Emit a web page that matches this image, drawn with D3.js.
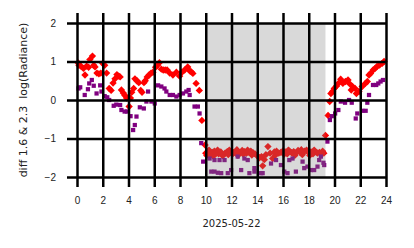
<!DOCTYPE html>
<html>
<head>
<meta charset="utf-8">
<script src="https://cdn.jsdelivr.net/npm/d3@7"></script>
<style>
  body { margin: 0; background: #fff; }
  svg { display: block; font-family: "DejaVu Sans", sans-serif; }
</style>
</head>
<body>
<div id="chart"></div>
<script>

//////// DATA ////////
var xTicks = [0, 2, 4, 6, 8, 10, 12, 14, 16, 18, 20, 22, 24];
var yTicks = [-2, -1, 0, 1, 2];
var shadeSpan = [10.0, 19.3];

// red diamonds: hour of day, value
var redHours = [
  0.1, 0.15, 0.3, 0.5, 0.62, 0.75, 0.9, 1.0, 1.2, 1.3, 1.4, 1.55, 1.7, 1.85, 2.0, 2.15, 2.3,
  2.5, 2.65, 2.8, 2.95, 3.1, 3.25, 3.35, 3.45, 3.6, 3.72, 3.85, 4.05, 4.15, 4.25, 4.4, 4.5,
  4.65, 4.8, 4.95, 5.05, 5.2, 5.3, 5.45, 5.6, 5.75, 5.9, 6.1, 6.25, 6.4, 6.55, 6.7, 6.85,
  7.0, 7.2, 7.45, 7.72, 7.97, 8.15, 8.36, 8.6, 8.75, 8.88, 9.0, 9.25, 9.5, 9.7, 9.95,
  10.0, 10.08, 10.17, 10.25, 10.33, 10.5, 10.58, 10.67, 10.83, 10.92, 11.0, 11.17, 11.25,
  11.33, 11.5, 11.67, 11.75, 11.83, 12.0, 12.08, 12.17, 12.33, 12.42, 12.5, 12.67, 12.83,
  12.92, 13.0, 13.17, 13.25, 13.33, 13.5, 13.58, 13.67, 13.83, 14.0, 14.17, 14.33, 14.42,
  14.55, 14.67, 14.83, 15.0, 15.2, 15.33, 15.42, 15.5, 15.67, 15.83, 16.0, 16.08, 16.17,
  16.33, 16.42, 16.5, 16.67, 16.83, 16.92, 17.0, 17.17, 17.33, 17.42, 17.5, 17.67, 17.83,
  18.0, 18.08, 18.17, 18.33, 18.42, 18.5, 18.67, 18.83, 19.0, 19.08, 19.17,
  19.3, 19.5, 19.63, 19.72, 19.85, 19.98, 20.15, 20.3, 20.48, 20.65, 20.85, 21.05, 21.15,
  21.3, 21.4, 21.6, 21.7, 21.9, 22.15, 22.4, 22.55, 22.68, 22.8, 23.0, 23.15, 23.3, 23.5,
  23.7, 23.85
];
var redValues = [
  0.96, 0.9, 0.88, 0.82, 0.65, 0.88, 0.85, 1.05, 1.14, 0.9, 0.86, 0.7, 0.68, 0.7, 0.95, 0.9, 0.7,
  0.3, 0.25, 0.44, 0.55, 0.66, 0.62, 0.6, 0.26, 0.18, 0.12, 0.05, -0.17, 0.05, 0.2, 0.3, 0.55,
  0.5, 0.45, 0.25, 0.2, 0.45, 0.5, 0.6, 0.65, 0.7, 0.72, 0.85, 0.9, 0.97, 0.8, 0.78, 0.78,
  0.78, 0.7, 0.65, 0.72, 0.62, 0.72, 0.78, 0.86, 0.76, 0.73, 0.69, 0.43, 0.25, -0.53, -1.17,
  -1.38, -1.44, -1.35, -1.3, -1.42, -1.36, -1.46, -1.33, -1.38, -1.3, -1.4, -1.35, -1.42,
  -1.45, -1.38, -1.34, -1.42, -1.3, -1.33, -1.4, -1.37, -1.35, -1.29, -1.44, -1.36, -1.31,
  -1.41, -1.34, -1.38, -1.3, -1.35, -1.33, -1.43, -1.37, -1.4, -1.45, -1.5, -1.47, -1.71,
  -1.55, -1.42, -1.21, -1.38, -1.52, -1.35, -1.43, -1.33, -1.38, -1.36, -1.32, -1.41, -1.35,
  -1.4, -1.3, -1.33, -1.37, -1.34, -1.44, -1.38, -1.31, -1.36, -1.29, -1.42, -1.33, -1.3,
  -1.37, -1.44, -1.35, -1.4, -1.3, -1.34, -1.38, -1.36, -1.4, -1.33, -1.38,
  -0.92, -0.4, -0.04, 0.17, 0.22, 0.3, 0.36, 0.43, 0.54, 0.43, 0.48, 0.52, 0.43,
  0.26, 0.35, 0.3, 0.17, 0.22, 0.35, 0.43, 0.48, 0.65, 0.69, 0.78, 0.82, 0.87, 0.91,
  0.95, 1.0
];

// purple squares: hour of day, value
var purpleHours = [
  0.12, 0.25, 0.6, 0.85, 0.95, 1.15, 1.3, 1.52, 1.8, 1.9, 2.15, 2.35, 2.5, 2.85, 3.05, 3.35,
  3.45, 3.7, 3.9, 4.16, 4.36, 4.49, 4.62, 4.88, 5.19, 5.39, 5.52, 5.78, 6.04, 6.3, 6.55, 6.8,
  6.94, 7.2, 7.45, 7.72, 7.97, 8.23, 8.49, 8.67, 8.75, 9.13, 9.39, 9.52, 9.65, 9.8,
  10.3, 10.43, 10.68, 10.68, 10.94, 11.07, 11.2, 11.46, 11.71, 11.97, 12.48, 12.75, 13.0,
  13.26, 13.39, 13.78, 13.78, 14.3, 14.42, 15.07, 15.46, 15.84, 16.1, 16.35, 16.49, 16.74,
  17.0, 17.52, 17.65, 17.9, 18.17, 18.42, 18.68, 18.81, 18.94, 19.14, 19.2,
  19.45, 19.64, 19.79, 20.05, 20.3, 20.49, 20.82, 21.13, 21.34, 21.65, 21.77, 22.16, 22.42,
  22.55, 22.68, 22.99, 23.24, 23.4, 23.58, 23.76
];
var purpleValues = [
  0.3, 0.33, 0.13, 0.28, 0.43, 0.52, 0.37, 0.17, 0.38, 0.22, 0.1, 0.07, 0.0, -0.15, -0.12, -0.13,
  -0.26, -0.3, -0.3, -0.42, -0.78, -0.65, -0.43, -0.19, -0.22, -0.04, 0.22, -0.04, -0.09, 0.38, 0.35, 0.3,
  0.22, 0.13, 0.13, 0.09, 0.13, 0.17, 0.22, 0.26, 0.13, -0.17, -0.17, -0.35, -1.12, -1.6,
  -1.52, -1.86, -1.86, -1.56, -1.89, -1.56, -1.9, -1.56, -1.9, -1.82, -1.47, -1.82, -1.52,
  -1.56, -1.9, -1.86, -1.77, -1.9, -1.9, -1.65, -1.56, -1.69, -1.86, -1.9, -1.56, -1.52,
  -1.86, -1.6, -1.77, -1.73, -1.82, -1.82, -1.73, -1.56, -1.47, -1.63, -1.69,
  -1.08, -0.52, -0.42, -0.35, -0.26, -0.04, -0.07, 0.0, -0.07, -0.48, -0.35, -0.28, -0.28,
  -0.07, 0.13, 0.39, 0.39, 0.43, 0.48, 0.52
];

//////// CANVAS ////////
var outerWidth = 414, outerHeight = 248;
var margin = {top: 23, right: 28, bottom: 71, left: 77};
var width = outerWidth - margin.left - margin.right,
    height = outerHeight - margin.top - margin.bottom;

var svg = d3.select("#chart").append("svg")
    .attr("width", outerWidth)
    .attr("height", outerHeight);

var g = svg.append("g")
    .attr("transform", "translate(" + margin.left + "," + margin.top + ")");

//////// SCALES ////////
var xScale = d3.scaleLinear().domain([0, 24]).range([0, width]);
var yScale = d3.scaleLinear().domain([-2, 2]).range([height, 0]);

var diamond = d3.symbol().type(d3.symbolSquare).size(27);
var square = d3.symbol().type(d3.symbolSquare).size(18);

//////// MARKERS ////////
g.append("g")
  .selectAll("path")
  .data(redHours.map(function(h, i) { return [h, redValues[i]]; }))
  .enter().append("path")
    .attr("d", diamond)
    .attr("fill", "#ff0000")
    .attr("transform", function(d) {
      return "translate(" + xScale(d[0]) + "," + yScale(d[1]) + ") rotate(45)";
    });

g.append("g")
  .selectAll("path")
  .data(purpleHours.map(function(h, i) { return [h, purpleValues[i]]; }))
  .enter().append("path")
    .attr("d", square)
    .attr("fill", "#800080")
    .attr("transform", function(d) {
      return "translate(" + xScale(d[0]) + "," + yScale(d[1]) + ")";
    });

// night span, drawn over the markers
g.append("rect")
  .attr("x", xScale(shadeSpan[0]))
  .attr("y", 0)
  .attr("width", xScale(shadeSpan[1]) - xScale(shadeSpan[0]))
  .attr("height", height)
  .attr("fill", "#808080")
  .attr("fill-opacity", 0.3);

//////// AXES / GRID ////////
var xAxis = g.append("g")
  .attr("transform", "translate(0," + height + ")")
  .call(d3.axisBottom(xScale).tickValues(xTicks).tickFormat(d3.format("d"))
    .tickSizeInner(-height - 10).tickSizeOuter(0).tickPadding(0));

xAxis.select(".domain").remove();
xAxis.selectAll(".tick line")
  .attr("y1", 10)
  .attr("stroke", "#000")
  .attr("stroke-width", 2.5);
xAxis.selectAll(".tick text")
  .attr("y", 20)
  .attr("dy", "0.71em")
  .attr("font-size", 10)
  .attr("fill", "#222");

var yAxis = g.append("g")
  .call(d3.axisLeft(yScale).tickValues(yTicks).tickFormat(function(d) { return d3.format("d")(d).replace("-", "\u2212"); })
    .tickSizeInner(-width).tickSizeOuter(0).tickPadding(0));

yAxis.select(".domain").remove();
yAxis.selectAll(".tick line")
  .attr("x1", -10)
  .attr("stroke", "#000")
  .attr("stroke-width", 2.5);
yAxis.selectAll(".tick text")
  .attr("x", -21)
  .attr("font-size", 10)
  .attr("fill", "#222");

//////// LABELS ////////
svg.append("text")
  .attr("x", margin.left + width / 2)
  .attr("y", 227)
  .attr("text-anchor", "middle")
  .attr("font-size", 10)
  .attr("fill", "#222")
  .text("2025-05-22");

svg.append("text")
  .attr("transform", "translate(27," + (margin.top + height / 2) + ") rotate(-90)")
  .attr("text-anchor", "middle")
  .attr("font-size", 11)
  .attr("fill", "#222")
  .style("white-space", "pre")
  .text("diff 1.6 & 2.3  log(Radiance)");

</script>
</body>
</html>
